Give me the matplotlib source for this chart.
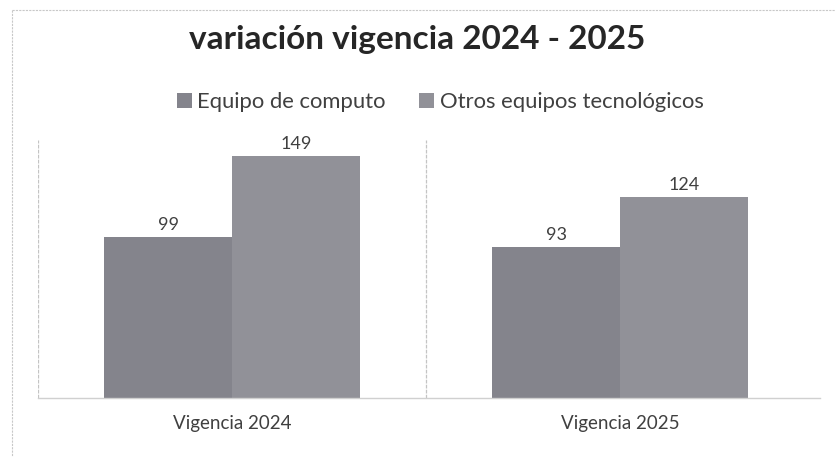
import matplotlib
matplotlib.use("Agg")
import matplotlib.pyplot as plt
import numpy as np

categories = ["Vigencia 2024", "Vigencia 2025"]
series_names = ["Equipo de computo", "Otros equipos tecnológicos"]
equipo_computo = [99, 93]
otros_equipos = [149, 124]

colors = ["#84848c", "#919198"]

plt.rcParams['font.family'] = ['Lato', 'DejaVu Sans']

fig = plt.figure(figsize=(8.35, 4.57), dpi=100)
fig.patch.set_facecolor("white")

# outer chart border (scanned, light)
fig.add_artist(plt.Line2D([12/835, 12/835], [1-10/457, 0.0], transform=fig.transFigure,
                          color="#c8c8c8", lw=0.8, ls=(0, (2, 1))))
fig.add_artist(plt.Line2D([12/835, 1.0], [1-10/457, 1-10/457], transform=fig.transFigure,
                          color="#c8c8c8", lw=0.8, ls=(0, (2, 1))))

left = 38/835
right = 820/835
bottom = 1 - 398/457
top = 1 - 140/457
ax = fig.add_axes([left, bottom, right-left, top-bottom])

x = np.arange(len(categories))
w = 0.33
b1 = ax.bar(x - w/2, equipo_computo, width=w, color=colors[0], label=series_names[0])
b2 = ax.bar(x + w/2, otros_equipos, width=w, color=colors[1], label=series_names[1])

for bars in (b1, b2):
    for r in bars:
        ax.text(r.get_x() + r.get_width()/2, r.get_height() + 2.5, f"{int(r.get_height())}",
                ha="center", va="bottom", fontsize=13, color="#404040")

ax.set_xlim(-0.5, 1.515)
ax.set_ylim(0, 159)
ax.set_yticks([])
ax.set_xticks(x)
ax.set_xticklabels(categories, fontsize=13.5, color="#404040")
ax.tick_params(axis="x", length=0, pad=12)
for s in ["top", "right", "left"]:
    ax.spines[s].set_visible(False)
ax.spines["bottom"].set_color("#d0d0d0")
ax.spines["bottom"].set_linewidth(1.0)

for sep in [-0.5, 0.5]:
    ax.axvline(sep, color="#c4c4c4", lw=0.9, ls=(0, (3, 1)), zorder=0)

fig.text(0.5, 1 - 40/457, "variación vigencia 2024 - 2025", ha="center", va="center",
         fontsize=24, fontweight="bold", color="#262626")

handles = [b1, b2]
leg = fig.legend(handles, series_names, loc="center", bbox_to_anchor=(0.527, 1 - 102/457),
                 ncol=2, frameon=False, fontsize=15.8, handlelength=0.7, handleheight=0.7,
                 handletextpad=0.25, columnspacing=1.5, labelcolor="#404040")

fig.savefig("out.png", dpi=100, facecolor="white")
